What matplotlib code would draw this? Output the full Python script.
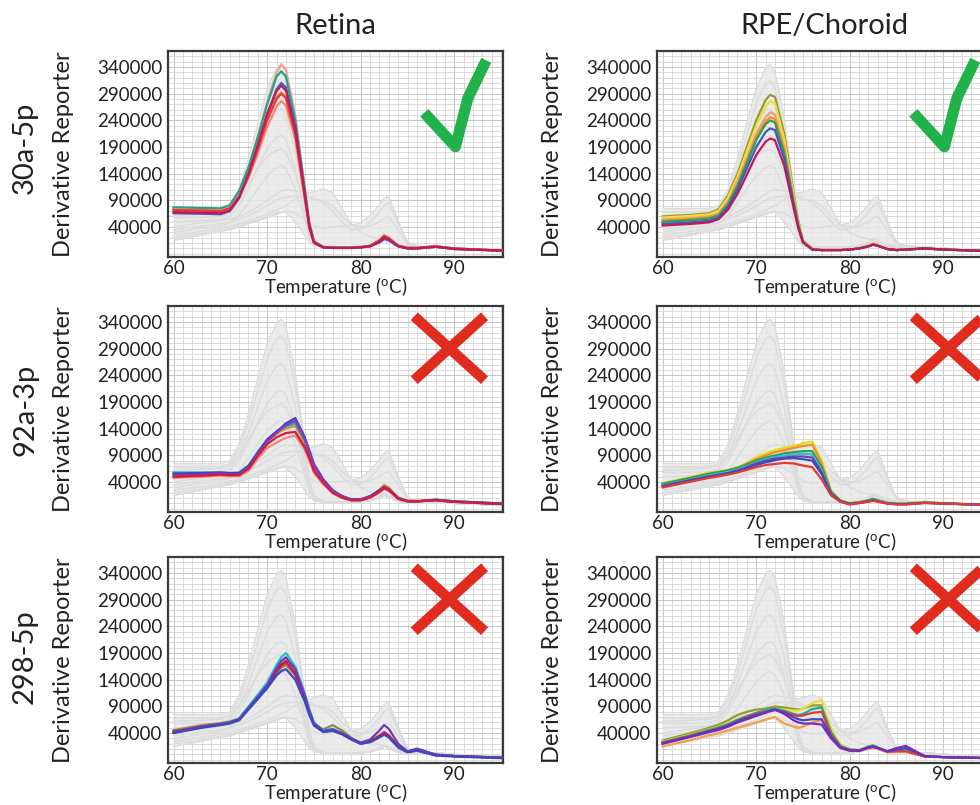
import numpy as np
import matplotlib.pyplot as plt
from matplotlib.ticker import MultipleLocator, FixedLocator

plt.rcParams['font.family'] = ['Lato', 'DejaVu Sans']
plt.rcParams['mathtext.fontset'] = 'custom'
plt.rcParams['mathtext.rm'] = 'Lato'

# temperature grid (deg C) shared by every trace
temps = [60, 63, 65, 66, 67, 68, 69, 70, 71, 71.5, 72, 73, 74, 74.5, 75,
         76, 77, 78, 79, 80, 81, 82, 82.5, 83, 84, 85, 86, 88, 90, 95]

# grey traces: whole plate, same in every panel (x1000)
gray_curves = [
    [75, 75, 75, 80, 112, 168, 235, 300, 338, 345, 332, 245, 115, 45, 12, 3, 2, 2, 2, 3, 5, 12, 18, 15, 5, 1, 1, 3, 0, -3],
    [68, 68, 69, 74, 102, 152, 212, 272, 308, 314, 302, 222, 102, 40, 10, 3, 2, 2, 2, 3, 5, 12, 18, 15, 5, 1, 1, 3, 0, -3],
    [58, 58, 60, 65, 90, 132, 182, 230, 258, 262, 250, 182, 82, 30, 8, 2, 2, 2, 2, 3, 5, 10, 14, 12, 4, 1, 1, 3, 0, -3],
    [50, 52, 54, 60, 80, 112, 152, 188, 208, 212, 204, 148, 66, 25, 7, 2, 2, 2, 2, 3, 5, 10, 14, 12, 4, 1, 1, 3, 0, -3],
    [30, 38, 42, 48, 62, 86, 112, 136, 152, 155, 150, 112, 56, 22, 7, 2, 2, 2, 2, 3, 5, 10, 14, 12, 4, 1, 1, 3, 0, -3],
    [40, 48, 52, 55, 60, 68, 78, 90, 102, 108, 110, 108, 104, 104, 106, 112, 105, 75, 45, 30, 22, 18, 16, 14, 8, 4, 3, 2, 0, -3],
    [20, 28, 34, 38, 42, 48, 54, 60, 66, 68, 70, 66, 55, 48, 42, 38, 40, 42, 44, 48, 62, 82, 94, 98, 52, 10, 4, 3, 0, -3],
    [15, 25, 32, 35, 40, 46, 52, 58, 64, 67, 68, 50, 25, 12, 5, 2, 2, 2, 2, 3, 5, 10, 14, 12, 4, 1, 1, 3, 0, -3],
    [25, 32, 38, 42, 46, 52, 58, 64, 72, 76, 80, 92, 100, 98, 94, 85, 70, 50, 35, 36, 48, 68, 80, 86, 46, 12, 5, 3, 0, -3],
    [62, 64, 66, 70, 90, 120, 150, 172, 184, 186, 180, 142, 80, 40, 15, 4, 2, 2, 2, 3, 5, 10, 14, 12, 4, 1, 1, 3, 0, -3],
    [35, 42, 46, 50, 55, 62, 70, 80, 90, 94, 96, 98, 96, 94, 92, 90, 80, 60, 45, 40, 42, 50, 56, 60, 35, 8, 3, 2, 0, -3],
]

# coloured traces per assay (x1000)
retina_30a5p = [
    [76, 75, 74, 80, 106, 150, 210, 275, 330, 345, 335, 250, 118, 50, 14, 3, 2, 2, 2, 3, 5, 15, 24, 19, 5, 1, 1, 4, 0, -4],
    [77, 76, 75, 81, 108, 152, 208, 270, 322, 332, 322, 240, 112, 47, 13, 3, 2, 2, 2, 3, 5, 14, 22, 18, 5, 1, 1, 4, 0, -4],
    [73, 72, 71, 76, 97, 132, 178, 228, 266, 276, 268, 204, 95, 38, 10, 2, 1, 1, 1, 2, 4, 13, 20, 16, 4, 0, 0, 3, -1, -4],
    [70, 69, 68, 73, 96, 136, 188, 244, 284, 292, 284, 216, 100, 40, 11, 2, 1, 1, 1, 2, 5, 16, 25, 20, 5, 1, 1, 4, 0, -4],
    [66, 65, 64, 70, 94, 138, 192, 252, 298, 310, 302, 228, 106, 44, 12, 2, 1, 1, 1, 2, 4, 11, 18, 15, 4, 0, 0, 3, -1, -4],
    [72, 71, 70, 75, 97, 136, 186, 240, 280, 290, 282, 214, 99, 40, 11, 2, 1, 1, 1, 2, 5, 15, 23, 19, 5, 1, 1, 4, 0, -4],
    [68, 67, 66, 71, 96, 140, 194, 252, 295, 305, 296, 224, 104, 42, 11, 2, 1, 1, 1, 2, 4, 13, 21, 17, 4, 0, 0, 3, -1, -4],
]
rpe_30a5p = [
    [60, 63, 66, 74, 100, 140, 190, 240, 278, 288, 284, 215, 105, 52, 15, -1, -3, -3, -3, -2, 0, 5, 9, 6, -1, -3, -2, 0, -2, -5],
    [58, 61, 64, 71, 96, 134, 182, 230, 266, 276, 272, 205, 100, 49, 14, -1, -3, -3, -3, -2, 0, 5, 8, 6, -1, -3, -2, 0, -2, -5],
    [54, 57, 60, 66, 89, 126, 170, 215, 246, 255, 251, 190, 93, 46, 13, -2, -3, -3, -3, -2, 0, 4, 8, 5, -1, -3, -2, 0, -2, -5],
    [52, 55, 58, 64, 86, 120, 164, 208, 238, 246, 242, 184, 90, 45, 13, -2, -3, -3, -3, -2, 0, 5, 9, 6, -1, -3, -2, 0, -2, -5],
    [50, 53, 56, 62, 83, 117, 160, 203, 233, 240, 236, 178, 87, 43, 12, -2, -3, -3, -3, -2, 0, 4, 7, 5, -1, -3, -2, 0, -2, -5],
    [46, 49, 52, 58, 78, 110, 150, 190, 218, 225, 222, 168, 82, 41, 12, -2, -3, -3, -3, -2, 0, 4, 7, 5, -1, -3, -2, 0, -2, -5],
    [43, 46, 49, 55, 73, 102, 138, 175, 200, 206, 203, 155, 76, 38, 11, -2, -3, -3, -3, -2, 0, 4, 7, 5, -1, -3, -2, 0, -2, -5],
]
retina_92a3p = [
    [48, 50, 52, 51, 51, 61, 84, 104, 114, 119, 123, 127, 101, 80, 57, 36, 19, 10, 6, 6, 11, 20, 27, 23, 9, 4, 4, 6, 3, -1],
    [54, 55, 57, 56, 56, 69, 95, 117, 130, 136, 140, 145, 114, 90, 65, 40, 21, 11, 6, 6, 12, 26, 35, 30, 11, 5, 5, 7, 4, 0],
    [55, 56, 57, 56, 56, 68, 94, 118, 133, 140, 146, 152, 120, 95, 69, 43, 23, 12, 7, 7, 12, 24, 30, 26, 10, 4, 4, 7, 4, 0],
    [58, 58, 58, 57, 58, 71, 97, 119, 133, 139, 144, 150, 118, 94, 68, 42, 22, 12, 6, 6, 12, 23, 29, 25, 9, 4, 4, 6, 3, -1],
    [56, 57, 58, 57, 57, 70, 95, 120, 135, 142, 150, 160, 125, 100, 74, 45, 25, 14, 8, 8, 14, 25, 31, 27, 10, 5, 4, 7, 4, 0],
    [52, 54, 56, 54, 54, 66, 92, 116, 132, 140, 147, 155, 122, 97, 71, 44, 24, 13, 7, 7, 13, 23, 29, 25, 9, 4, 4, 6, 3, -1],
    [50, 52, 54, 53, 53, 65, 89, 111, 124, 128, 132, 134, 106, 85, 61, 38, 20, 11, 6, 6, 11, 22, 29, 25, 9, 4, 4, 6, 3, -1],
]
rpe_92a3p = [
    [38, 50, 58, 60, 63, 68, 76, 86, 94, 97, 100, 104, 108, 110, 113, 116, 80, 25, 6, 1, 2, 6, 8, 6, 2, 0, 0, 3, 1, -3],
    [36, 47, 55, 58, 61, 66, 74, 83, 90, 93, 96, 100, 104, 106, 108, 110, 75, 23, 5, 0, 2, 5, 7, 5, 1, -1, -1, 2, 0, -3],
    [37, 48, 56, 59, 62, 67, 73, 80, 86, 88, 90, 94, 96, 97, 98, 98, 68, 21, 5, 0, 2, 6, 9, 6, 1, -1, -1, 2, 0, -3],
    [34, 45, 53, 56, 59, 64, 70, 77, 83, 85, 87, 90, 92, 92, 93, 92, 62, 19, 4, -1, 1, 4, 7, 5, 1, -1, -1, 2, 0, -3],
    [33, 44, 51, 54, 57, 62, 68, 75, 80, 82, 84, 86, 88, 88, 88, 86, 58, 18, 4, -1, 1, 4, 6, 4, 0, -1, -1, 1, 0, -3],
    [32, 43, 50, 53, 56, 60, 66, 72, 77, 79, 81, 84, 85, 84, 83, 80, 55, 17, 4, -1, 1, 4, 6, 4, 0, -1, -1, 1, 0, -3],
    [30, 41, 48, 51, 54, 58, 63, 68, 72, 73, 74, 76, 75, 73, 71, 68, 45, 15, 3, -2, 1, 3, 5, 3, 0, -2, -2, 1, 0, -3],
]
retina_298_5p = [
    [46, 55, 59, 62, 67, 88, 110, 131, 158, 170, 176, 154, 108, 80, 57, 44, 47, 40, 30, 21, 24, 33, 38, 33, 14, 5, 8, -1, -3, -6],
    [43, 52, 57, 60, 66, 85, 105, 126, 152, 162, 168, 148, 105, 78, 57, 47, 55, 45, 31, 21, 24, 33, 39, 34, 14, 5, 8, -1, -3, -6],
    [45, 54, 58, 61, 68, 90, 112, 135, 168, 182, 190, 165, 115, 85, 60, 45, 48, 40, 30, 22, 25, 35, 42, 36, 15, 5, 9, -1, -3, -6],
    [44, 53, 57, 60, 66, 86, 106, 127, 155, 166, 172, 150, 106, 78, 56, 43, 46, 39, 29, 21, 25, 36, 42, 36, 15, 5, 9, -1, -3, -6],
    [41, 51, 56, 59, 65, 86, 107, 128, 156, 168, 175, 152, 106, 78, 56, 43, 45, 38, 28, 20, 24, 34, 40, 34, 14, 5, 8, -1, -3, -6],
    [42, 52, 57, 60, 66, 87, 108, 130, 162, 175, 182, 160, 112, 82, 58, 44, 47, 40, 30, 22, 28, 45, 55, 48, 20, 6, 11, 0, -3, -6],
    [40, 50, 55, 58, 64, 84, 104, 124, 148, 156, 160, 140, 100, 74, 54, 42, 44, 38, 28, 20, 23, 32, 37, 32, 13, 4, 7, -2, -4, -7],
]
rpe_298_5p = [
    [15, 27, 36, 40, 45, 50, 55, 60, 65, 68, 70, 58, 52, 50, 52, 60, 64, 32, 13, 7, 6, 11, 12, 10, 4, 5, 5, -4, -5, -7],
    [26, 40, 50, 56, 64, 74, 80, 84, 86, 88, 90, 88, 85, 84, 86, 92, 92, 45, 18, 10, 8, 14, 15, 12, 6, 8, 8, -3, -5, -7],
    [24, 37, 47, 52, 58, 66, 72, 78, 82, 84, 85, 84, 82, 82, 86, 96, 102, 48, 18, 9, 8, 14, 16, 12, 5, 7, 7, -3, -5, -7],
    [23, 36, 46, 51, 57, 65, 72, 78, 83, 85, 86, 82, 76, 74, 76, 85, 88, 42, 16, 9, 8, 15, 17, 13, 6, 8, 9, -3, -5, -7],
    [22, 35, 44, 49, 55, 63, 70, 76, 80, 82, 83, 80, 74, 72, 73, 78, 80, 38, 14, 8, 7, 13, 15, 12, 5, 6, 6, -4, -5, -7],
    [21, 34, 44, 48, 54, 62, 68, 74, 79, 82, 84, 79, 70, 66, 64, 66, 66, 34, 13, 8, 7, 13, 15, 12, 6, 9, 12, -3, -5, -7],
    [20, 33, 42, 46, 52, 60, 66, 72, 78, 81, 84, 76, 64, 60, 58, 58, 56, 30, 12, 7, 7, 13, 14, 12, 6, 12, 16, -3, -5, -7],
]

col_titles = ['Retina', 'RPE/Choroid']
row_titles = ['30a-5p', '92a-3p', '298-5p']
panel_data = [[retina_30a5p, rpe_30a5p],
              [retina_92a3p, rpe_92a3p],
              [retina_298_5p, rpe_298_5p]]
verdict = [['ok', 'ok'], ['bad', 'bad'], ['bad', 'bad']]

panel_colors = [
    [['#f2a093', '#1fa68a', '#f4867a', '#f28c28', '#4b5bbf', '#e53935', '#c2185b'],
     ['#9a9a2a', '#e8e040', '#f29a7a', '#f28c28', '#2aa050', '#3b5bbf', '#c2185b']],
    [['#f08a80', '#f28c28', '#2aa070', '#20a8b0', '#4040c0', '#8a3ab9', '#d81b3a'],
     ['#e8d820', '#f28c28', '#2aa050', '#30c0c0', '#7a3ab9', '#3b4bbf', '#e53935']],
    [['#f28c28', '#8a8a40', '#20c0d0', '#e53935', '#c2185b', '#6a3ab9', '#3b4bbf'],
     ['#f5a050', '#9a9a2a', '#e8e040', '#20a8a0', '#e53935', '#3b4bbf', '#7a2ab9']],
]

fig = plt.figure(figsize=(9.8, 8.05), dpi=100)
W, H = 980.0, 805.0
col_left = [168, 657]
row_top = [51, 306, 557]
ax_w, ax_h = 335, 206

t = np.array(temps)
gray = np.array(gray_curves) * 1000.0

for r in range(3):
    for c in range(2):
        ax = fig.add_axes([col_left[c] / W, 1 - (row_top[r] + ax_h) / H, ax_w / W, ax_h / H])
        ax.set_xlim(59.4, 95.2)
        ax.set_ylim(-16000, 370000)
        ax.xaxis.set_major_locator(FixedLocator([60, 70, 80, 90]))
        ax.xaxis.set_minor_locator(MultipleLocator(1))
        ax.yaxis.set_major_locator(FixedLocator(list(range(40000, 340001, 50000))))
        ax.yaxis.set_minor_locator(MultipleLocator(10000))
        ax.grid(which='minor', color='#d6d6d6', lw=0.6)
        ax.grid(which='major', color='#c6c6c6', lw=0.7)
        ax.set_axisbelow(True)
        ax.tick_params(which='both', length=0, labelsize=13.5, pad=4, colors='#222222')
        ax.tick_params(axis='x', pad=2)
        for sp in ax.spines.values():
            sp.set_color('#3a3a3a')
            sp.set_linewidth(1.6)

        ax.fill_between(t, gray.min(axis=0), gray.max(axis=0), color='#e8e8e8', alpha=0.85, lw=0, zorder=2)
        for g in gray:
            ax.plot(t, g, color='#dcdcdc', lw=1.0, zorder=2.5)

        curves = np.array(panel_data[r][c]) * 1000.0
        for y, col in zip(curves, panel_colors[r][c]):
            ax.plot(t, y, color=col, lw=1.6, zorder=3)

        ax.set_ylabel('Derivative Reporter', fontsize=17, color='#222222')
        ax.yaxis.set_label_coords(-0.28, 0.5)
        ax.set_xlabel('Temperature ($\\mathregular{^o}$C)', fontsize=13.5, labelpad=-1, color='#222222')

        dx = 0.0 if c == 0 else 0.03
        if verdict[r][c] == 'ok':
            ax.plot([0.765, 0.858, 0.895, 0.95], [0.70, 0.535, 0.77, 0.955], transform=ax.transAxes,
                    color='#22b24c', lw=8, solid_capstyle='butt', solid_joinstyle='round',
                    clip_on=False, zorder=10)
        else:
            x0, x1, y0, y1 = 0.735 + dx, 0.945 + dx, 0.64, 0.95
            ax.plot([x0, x1], [y1, y0], transform=ax.transAxes, color='#e02b1f', lw=7.5,
                    solid_capstyle='butt', clip_on=False, zorder=10)
            ax.plot([x1, x0], [y1, y0], transform=ax.transAxes, color='#e02b1f', lw=7.5,
                    solid_capstyle='butt', clip_on=False, zorder=10)

for c, name in enumerate(col_titles):
    fig.text((col_left[c] + 167) / W, 1 - 26 / H, name, fontsize=21, ha='center', va='center', color='#222222')

row_centers = [148, 410, 657]
for r, name in enumerate(row_titles):
    fig.text(25 / W, 1 - row_centers[r] / H, name, fontsize=21, rotation=90,
             ha='center', va='center', color='#222222')

fig.savefig('out.png', dpi=100, facecolor='white')
